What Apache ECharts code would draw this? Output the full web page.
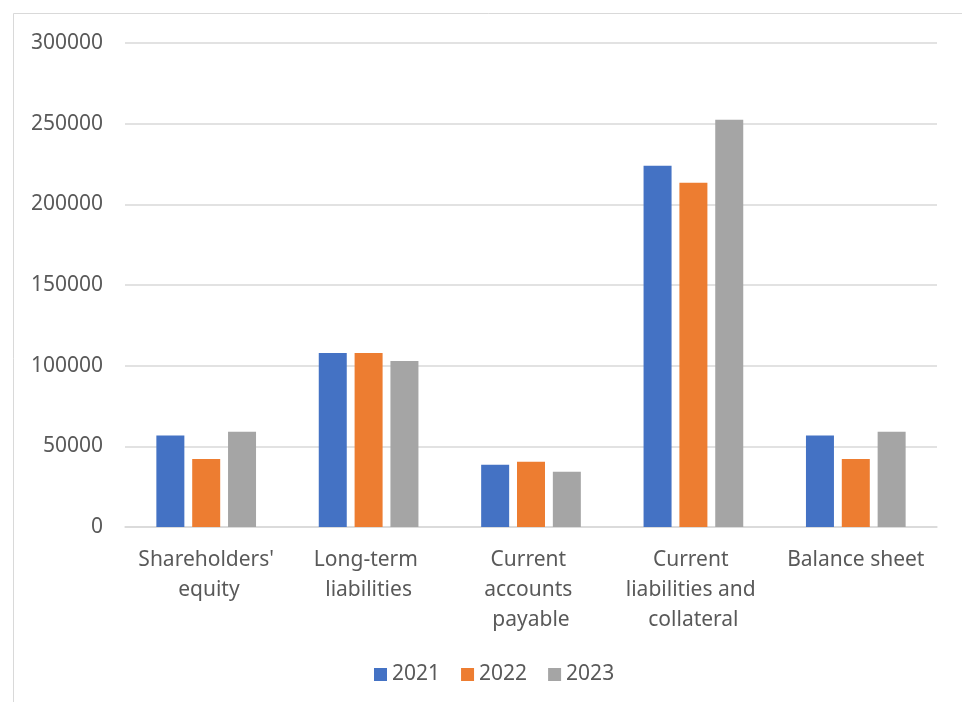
<!DOCTYPE html>
<html>
<head>
<meta charset="utf-8">
<script src="https://cdn.jsdelivr.net/npm/echarts@6/dist/echarts.min.js"></script>
<style>
  html, body { margin: 0; padding: 0; background: #fff; }
  #chart { width: 962px; height: 702px; }
</style>
</head>
<body>
<div id="chart"></div>
<script>
const categories = [
  "Shareholders' equity",
  'Long-term liabilities',
  'Current accounts payable',
  'Current liabilities and collateral',
  'Balance sheet'
]
const years = ['2021', '2022', '2023']
const values2021 = [56700, 107800, 38600, 223900, 56700]
const values2022 = [42100, 107800, 40400, 213400, 42100]
const values2023 = [59000, 102900, 34200, 252400, 59000]
const colors = ['#4472C4', '#ED7D31', '#A5A5A5']

const textColor = '#595959'
const fontFamily = '"Noto Sans", sans-serif'

const chart = echarts.init(document.getElementById('chart'), null, { renderer: 'canvas' })

const makeSeries = (name, data, color) => ({
  name: name,
  type: 'bar',
  data: data,
  barWidth: 28,
  barGap: '28%',
  itemStyle: { color: color }
})

chart.setOption({
  animation: false,
  backgroundColor: '#fff',
  textStyle: { fontFamily: fontFamily, color: textColor },
  graphic: [{
    type: 'rect',
    shape: { x: 13.5, y: 13.5, width: 2000, height: 2000 },
    style: { fill: 'none', stroke: '#d9d9d9', lineWidth: 1 },
    silent: true
  }],
  grid: {
    left: 125,
    right: 25,
    top: 43,
    bottom: 175,
    containLabel: false
  },
  legend: {
    data: years,
    left: 374,
    top: 664,
    padding: 0,
    itemWidth: 13,
    itemHeight: 13,
    itemGap: 21,
    icon: 'rect',
    textStyle: { fontFamily: fontFamily, fontSize: 21, color: textColor }
  },
  xAxis: {
    type: 'category',
    data: categories,
    axisLine: { show: true, lineStyle: { color: '#d9d9d9', width: 1.5 } },
    axisTick: { show: false },
    axisLabel: {
      interval: 0,
      margin: 18,
      fontFamily: fontFamily,
      fontSize: 21,
      color: textColor,
      lineHeight: 30,
      width: 140,
      overflow: 'break',
      align: 'center',
      verticalAlign: 'top'
    }
  },
  yAxis: {
    type: 'value',
    min: 0,
    max: 300000,
    interval: 50000,
    axisLine: { show: false },
    axisTick: { show: false },
    splitLine: { lineStyle: { color: '#d9d9d9', width: 1.5 } },
    axisLabel: {
      margin: 22,
      fontFamily: fontFamily,
      fontSize: 21,
      color: textColor,
      formatter: (v) => String(v)
    }
  },
  series: [
    makeSeries(years[0], values2021, colors[0]),
    makeSeries(years[1], values2022, colors[1]),
    makeSeries(years[2], values2023, colors[2])
  ]
})
</script>
</body>
</html>
